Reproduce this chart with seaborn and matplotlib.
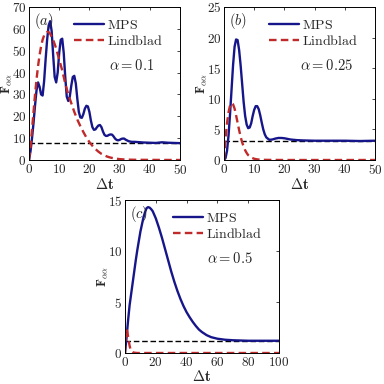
import numpy as np
import pandas as pd
import matplotlib
matplotlib.use("Agg")
import matplotlib.pyplot as plt
import seaborn as sns

# ---------------- data ----------------
# panel (a), alpha = 0.1
a_mps_t = [0, 0.5, 1, 1.5, 2, 2.5, 3, 3.5, 4, 4.5, 5, 5.5, 6, 6.5, 7, 7.5, 8, 8.5, 9, 9.5,
           10, 10.5, 11, 11.5, 12, 12.5, 13, 13.5, 14, 14.5, 15, 15.5, 16, 16.5, 17, 17.5,
           18, 18.5, 19, 19.5, 20, 20.5, 21, 21.5, 22, 22.5, 23, 23.5, 24, 24.5, 25, 25.5,
           26, 26.5, 27, 27.5, 28, 28.5, 29, 29.5, 30, 30.5, 31, 31.5, 32, 33, 34, 35, 36,
           38, 40, 42, 44, 46, 48, 50]
a_mps_f = [0, 4, 10, 17, 25, 32, 35.5, 33.5, 30, 29.5, 36, 46, 55, 61.5, 63.5, 59, 48, 38, 35.5, 40,
           49, 55, 55.5, 49, 38, 29, 27, 29, 34, 38, 38.5, 35, 28, 22, 19.5, 19.3,
           21, 23.5, 24.8, 24.5, 22, 18, 15, 13.8, 14, 15, 15.8, 16, 15, 13, 11.5, 11,
           11.1, 11.5, 11.7, 11.6, 10.8, 9.8, 9.2, 9.0, 9.2, 9.6, 9.8, 9.8, 9.3, 8.6, 8.3, 8.3, 8.2,
           8.0, 7.9, 7.8, 8.1, 7.9, 7.8, 7.7]
a_lin_t = [0, 0.5, 1, 1.5, 2, 2.5, 3, 3.5, 4, 4.5, 5, 5.5, 6, 6.5, 7, 8, 9, 10, 11, 12, 13, 14,
           15, 16, 17, 18, 19, 20, 21, 22, 23, 24, 25, 26, 27, 28, 30, 32, 35, 40, 50]
a_lin_f = [0, 6, 14, 22, 30, 37, 43, 48, 52, 55, 57, 58.2, 58.6, 58.5, 57.8, 55, 51, 46, 41, 35, 30, 26,
           22, 18.5, 15.5, 12.8, 10.3, 8.2, 6.5, 5, 3.8, 2.8, 2.1, 1.5, 1.1, 0.8, 0.4, 0.2, 0.1, 0.05, 0]
a_ref = 7.8
a_alpha = r"$\alpha = 0.1$"

# panel (b), alpha = 0.25
b_mps_t = [0, 0.5, 1, 1.5, 2, 2.5, 3, 3.5, 4, 4.5, 5, 5.5, 6, 6.5, 7, 7.5, 8, 8.5, 9, 9.5, 10,
           10.5, 11, 11.5, 12, 12.5, 13, 13.5, 14, 15, 16, 17, 18, 19, 20, 21, 22, 24, 26, 30,
           35, 40, 45, 50]
b_mps_f = [0, 0.3, 1.5, 4, 7.5, 11.5, 15.5, 18.5, 19.7, 19.6, 18, 15.5, 12.5, 9.5, 7.2, 5.8, 5.2, 5.3, 6, 7.2, 8.2,
           8.8, 8.8, 8.3, 7.3, 6.1, 5, 4.2, 3.7, 3.3, 3.35, 3.5, 3.6, 3.6, 3.55, 3.45, 3.35, 3.25, 3.2, 3.15,
           3.15, 3.15, 3.1, 3.15]
b_lin_t = [0, 0.5, 1, 1.5, 2, 2.5, 3, 3.5, 4, 4.5, 5, 5.5, 6, 6.5, 7, 7.5, 8, 9, 10, 11, 12, 14, 20, 50]
b_lin_f = [0, 3.5, 6, 7.8, 8.9, 9.3, 9.1, 8.4, 7.3, 6.1, 4.9, 3.8, 2.9, 2.2, 1.6, 1.15, 0.8, 0.4, 0.2, 0.1, 0.05, 0.02, 0, 0]
b_ref = 3.1
b_alpha = r"$\alpha = 0.25$"

# panel (c), alpha = 0.5
c_mps_t = [0, 1, 2, 3, 4, 5, 6, 7, 8, 9, 10, 11, 12, 13, 14, 15, 16, 17, 18, 20, 22, 24, 26, 28,
           30, 32, 34, 36, 38, 40, 42, 44, 46, 48, 50, 53, 56, 60, 65, 70, 80, 90, 100]
c_mps_f = [0, 1.5, 3.2, 4.7, 5.8, 6.9, 8.0, 9.1, 10.1, 11.0, 11.9, 12.6, 13.3, 13.8, 14.2, 14.3, 14.25, 14.1, 13.9,
           13.2, 12.3, 11.3, 10.2, 9.1, 8.0, 7.0, 6.1, 5.3, 4.6, 4.0, 3.5, 3.05, 2.65, 2.3, 2.05, 1.75, 1.55,
           1.4, 1.3, 1.25, 1.2, 1.2, 1.2]
c_lin_t = [0, 0.3, 0.6, 1, 1.5, 2, 2.5, 3, 3.5, 4, 5, 6, 8, 100]
c_lin_f = [0, 1.2, 2.0, 2.3, 2.1, 1.6, 1.1, 0.7, 0.4, 0.2, 0.08, 0.03, 0.0, 0.0]
c_ref = 1.15
c_alpha = r"$\alpha = 0.5$"

# ---------------- style ----------------
sns.set_style("white")
plt.rcParams["font.family"] = ["DejaVu Serif"]
plt.rcParams["mathtext.fontset"] = "cm"

MPS_COLOR = "#16168a"
LIN_COLOR = "#c02a2a"

fig = plt.figure(figsize=(3.84, 3.84), dpi=100)
fig.patch.set_facecolor("white")

panels = [
    dict(pos=[29/384, 1-160/384, 151/384, 153/384], mt=a_mps_t, mf=a_mps_f, lt=a_lin_t, lf=a_lin_f,
         ref=a_ref, alpha=a_alpha, label=r"$(a)$", xlim=(0, 50), ylim=(0, 70),
         xt=[0, 10, 20, 30, 40, 50], yt=[0, 10, 20, 30, 40, 50, 60, 70]),
    dict(pos=[224/384, 1-160/384, 151/384, 153/384], mt=b_mps_t, mf=b_mps_f, lt=b_lin_t, lf=b_lin_f,
         ref=b_ref, alpha=b_alpha, label=r"$(b)$", xlim=(0, 50), ylim=(0, 25),
         xt=[0, 10, 20, 30, 40, 50], yt=[0, 5, 10, 15, 20, 25]),
    dict(pos=[125/384, 1-353/384, 154/384, 153/384], mt=c_mps_t, mf=c_mps_f, lt=c_lin_t, lf=c_lin_f,
         ref=c_ref, alpha=c_alpha, label=r"$(c)$", xlim=(0, 100), ylim=(0, 15),
         xt=[0, 20, 40, 60, 80, 100], yt=[0, 5, 10, 15]),
]

for p in panels:
    ax = fig.add_axes(p["pos"])
    dm = pd.DataFrame({"t": p["mt"], "F": p["mf"]})
    dl = pd.DataFrame({"t": p["lt"], "F": p["lf"]})
    sns.lineplot(data=dm, x="t", y="F", ax=ax, color=MPS_COLOR, lw=1.7, label=r"$\mathrm{MPS}$",
                 sort=False, estimator=None)
    sns.lineplot(data=dl, x="t", y="F", ax=ax, color=LIN_COLOR, lw=1.7, label=r"$\mathrm{Lindblad}$",
                 sort=False, estimator=None, dashes=False, linestyle=(0, (3.2, 1.8)))
    ax.axhline(p["ref"], color="black", lw=1.0, linestyle=(0, (4, 2)), zorder=1)
    ax.set_xlim(*p["xlim"])
    ax.set_ylim(*p["ylim"])
    ax.set_xticks(p["xt"])
    ax.set_yticks(p["yt"])
    ax.set_xticklabels([r"$\mathbf{%d}$" % v for v in p["xt"]])
    ax.set_yticklabels([r"$\mathbf{%d}$" % v for v in p["yt"]])
    ax.tick_params(direction="in", length=2.5, width=0.6, top=True, right=True,
                   labelsize=9.5, pad=2)
    for s in ax.spines.values():
        s.set_visible(True)
        s.set_color("black")
        s.set_linewidth(0.7)
    ax.set_xlabel(r"$\mathbf{\Delta t}$", fontsize=10.5, labelpad=0)
    ax.set_ylabel(r"$\mathbf{F}_{\alpha\alpha}$", fontsize=9, labelpad=0)
    ax.yaxis.set_label_coords(-15 / (p["pos"][2] * 384), 0.5)
    ax.legend(loc="upper right", bbox_to_anchor=(1 - 8 / (p["pos"][2] * 384), 0.985),
              frameon=False, fontsize=10, handlelength=2.2,
              handletextpad=0.2, labelspacing=0.1, borderaxespad=0.25)
    ax.text(0.03, 0.975, p["label"], transform=ax.transAxes, ha="left", va="top", fontsize=10.5)
    ax.text(0.68, 0.62, p["alpha"], transform=ax.transAxes, ha="center", va="center", fontsize=10.5)

fig.savefig("out.png", dpi=100, facecolor="white")
